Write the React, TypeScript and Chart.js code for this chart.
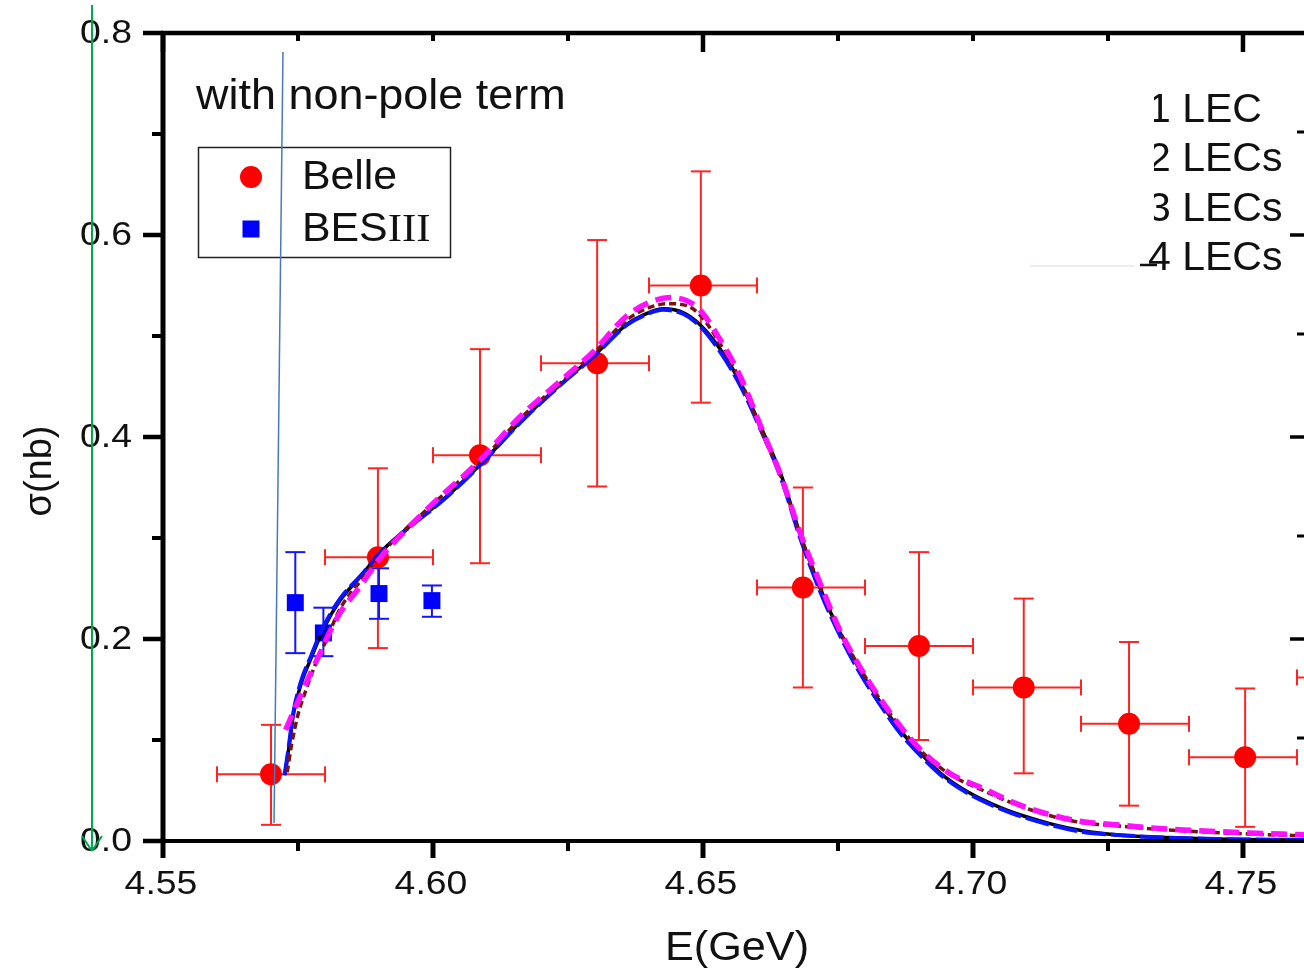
import React, { useEffect, useRef } from "react";
import { Chart, registerables } from "chart.js";

Chart.register(...registerables);

// ---------- axis / text content ----------
const xTickLabels = ["4.55", "4.60", "4.65", "4.70", "4.75"];
const xMinorTickValues = [4.575, 4.625, 4.675, 4.725];
const xTopMajorValues = [4.55, 4.65, 4.75];
const xTopMinorValues = [4.575, 4.6, 4.625, 4.675, 4.7, 4.725];
const yTickLabels = ["0.0", "0.2", "0.4", "0.6", "0.8"];
const yMinorTickValues = [0.1, 0.3, 0.5, 0.7];
const neighbourMajorTicks = [0.2, 0.4, 0.6];
const neighbourMinorTicks = [0.1, 0.3, 0.5, 0.7];
const xAxisTitle = "E(GeV)";
const yAxisTitle = "σ(nb)";
const panelNote = "with non-pole term";
const fitLabels = ["1 LEC", "2 LECs", "3 LECs", "4 LECs"];

// ---------- Belle data ----------
const belleE = [4.57, 4.5898, 4.6087, 4.6304, 4.6496, 4.6685, 4.69, 4.7094, 4.7289, 4.7504, 4.77];
const belleSigma = [0.066, 0.281, 0.382, 0.473, 0.55, 0.251, 0.193, 0.152, 0.116, 0.083, 0.162];
const belleSigmaLow = [0.016, 0.191, 0.275, 0.351, 0.434, 0.152, 0.1, 0.067, 0.035, 0.014, 0.08];
const belleSigmaHigh = [0.115, 0.369, 0.487, 0.595, 0.663, 0.35, 0.286, 0.24, 0.197, 0.151, 0.24];
const belleBinLow = [4.56, 4.58, 4.6, 4.62, 4.64, 4.66, 4.68, 4.7, 4.72, 4.74, 4.76];
const belleBinHigh = [4.58, 4.6, 4.62, 4.64, 4.66, 4.68, 4.7, 4.72, 4.74, 4.76, 4.78];

// ---------- BESIII data ----------
const besE = [4.5745, 4.5797, 4.59, 4.5998];
const besSigma = [0.236, 0.206, 0.245, 0.238];
const besSigmaLow = [0.186, 0.183, 0.22, 0.222];
const besSigmaHigh = [0.286, 0.231, 0.27, 0.253];

// ---------- fit curves ----------
const blueE = [4.5725, 4.5732, 4.5741, 4.5755, 4.5774, 4.5797, 4.5828, 4.5865, 4.5902, 4.5957, 4.602, 4.6087, 4.6161, 4.6235, 4.6296, 4.6359, 4.6389, 4.6426, 4.6463, 4.6494, 4.6531, 4.657, 4.6607, 4.6644, 4.668, 4.6717, 4.6754, 4.6791, 4.6828, 4.6865, 4.6902, 4.6939, 4.6988, 4.705, 4.708, 4.7143, 4.7204, 4.7267, 4.733, 4.745, 4.762];
const blueSigma = [0.065, 0.09, 0.126, 0.157, 0.183, 0.212, 0.24, 0.262, 0.285, 0.311, 0.338, 0.372, 0.414, 0.451, 0.479, 0.511, 0.52, 0.526, 0.522, 0.51, 0.485, 0.45, 0.407, 0.36, 0.3, 0.247, 0.203, 0.166, 0.135, 0.107, 0.085, 0.066, 0.048, 0.032, 0.026, 0.016, 0.009, 0.006, 0.004, 0.002, 0.001];
const blackE = [4.5726, 4.5733, 4.5742, 4.5756, 4.5775, 4.5798, 4.5829, 4.5866, 4.5903, 4.5958, 4.6021, 4.6088, 4.6162, 4.6236, 4.6297, 4.636, 4.639, 4.6427, 4.6464, 4.6495, 4.6532, 4.6571, 4.6608, 4.6645, 4.6681, 4.6718, 4.6755, 4.6792, 4.6829, 4.6866, 4.6903, 4.694, 4.6989, 4.7051, 4.7081, 4.7144, 4.7205, 4.7268, 4.7331, 4.7451, 4.762];
const blackSigma = [0.066, 0.092, 0.127, 0.156, 0.182, 0.211, 0.239, 0.262, 0.286, 0.312, 0.339, 0.373, 0.415, 0.452, 0.48, 0.512, 0.521, 0.527, 0.523, 0.511, 0.487, 0.452, 0.409, 0.362, 0.302, 0.249, 0.205, 0.168, 0.137, 0.109, 0.087, 0.067, 0.049, 0.033, 0.027, 0.017, 0.01, 0.006, 0.004, 0.002, 0.001];
const brownE = [4.573, 4.5738, 4.575, 4.5765, 4.578, 4.58, 4.5828, 4.5865, 4.5902, 4.5988, 4.6087, 4.6161, 4.6235, 4.6296, 4.6359, 4.64, 4.6435, 4.647, 4.6494, 4.6531, 4.6569, 4.6611, 4.6644, 4.668, 4.6717, 4.6754, 4.6791, 4.6828, 4.6865, 4.6902, 4.6957, 4.7019, 4.708, 4.7143, 4.7204, 4.7267, 4.733, 4.739, 4.751, 4.762];
const brownSigma = [0.068, 0.095, 0.125, 0.15, 0.172, 0.196, 0.23, 0.257, 0.283, 0.328, 0.375, 0.418, 0.453, 0.482, 0.516, 0.528, 0.532, 0.53, 0.521, 0.493, 0.456, 0.403, 0.361, 0.303, 0.252, 0.207, 0.171, 0.14, 0.113, 0.09, 0.066, 0.05, 0.036, 0.025, 0.018, 0.015, 0.012, 0.01, 0.007, 0.005];
const magentaE = [4.5727, 4.5745, 4.576, 4.5775, 4.5791, 4.5808, 4.5828, 4.5865, 4.5902, 4.5988, 4.6087, 4.6161, 4.6235, 4.6296, 4.6359, 4.64, 4.6439, 4.647, 4.6494, 4.6531, 4.6569, 4.6611, 4.6644, 4.668, 4.6717, 4.6754, 4.6791, 4.6828, 4.6865, 4.6902, 4.6957, 4.7019, 4.708, 4.7143, 4.7204, 4.7267, 4.733, 4.739, 4.751, 4.762];
const magentaSigma = [0.11, 0.132, 0.15, 0.168, 0.186, 0.206, 0.226, 0.252, 0.28, 0.328, 0.377, 0.42, 0.455, 0.484, 0.52, 0.533, 0.538, 0.535, 0.526, 0.497, 0.46, 0.405, 0.362, 0.305, 0.255, 0.208, 0.172, 0.141, 0.114, 0.091, 0.067, 0.052, 0.037, 0.026, 0.019, 0.016, 0.013, 0.011, 0.008, 0.006];

// ---------- annotation strokes (data coordinates) ----------
const greenArrowE = [4.53685, 4.53685];
const greenArrowSigma = [0.8277, -0.0099];
const blueMarkE = [4.57222, 4.57056];
const blueMarkSigma = [0.7812, 0.0178];

const SANS = '"Liberation Sans", Arial, Helvetica, sans-serif';
const SERIF = '"Liberation Serif", "Times New Roman", serif';

function pts(xs: number[], ys: number[]) {
  return xs.map((x, i) => ({ x, y: ys[i] }));
}

function stretchedText(
  ctx: CanvasRenderingContext2D,
  text: string,
  x: number,
  y: number,
  font: string,
  align: CanvasTextAlign,
  sx = 1,
  color = "#111"
) {
  ctx.save();
  ctx.font = font;
  ctx.fillStyle = color;
  ctx.textBaseline = "middle";
  ctx.textAlign = align;
  ctx.translate(x, y);
  ctx.scale(sx, 1);
  ctx.fillText(text, 0, 0);
  ctx.restore();
}

function line(ctx: CanvasRenderingContext2D, x1: number, y1: number, x2: number, y2: number) {
  ctx.beginPath();
  ctx.moveTo(x1, y1);
  ctx.lineTo(x2, y2);
  ctx.stroke();
}

const overlayPlugin = {
  id: "overlay",
  beforeDatasetsDraw(chart: any) {
    const { ctx, chartArea } = chart;
    const xs = chart.scales.x;
    const ys = chart.scales.y;
    ctx.save();
    ctx.beginPath();
    ctx.rect(chartArea.left, chartArea.top, chartArea.right - chartArea.left, chartArea.bottom - chartArea.top);
    ctx.clip();
    // Belle error bars
    ctx.strokeStyle = "#ff2424";
    ctx.lineWidth = 2;
    belleE.forEach((e, i) => {
      const px = xs.getPixelForValue(e);
      const py = ys.getPixelForValue(belleSigma[i]);
      const xl = xs.getPixelForValue(belleBinLow[i]);
      const xh = xs.getPixelForValue(belleBinHigh[i]);
      const yl = ys.getPixelForValue(belleSigmaLow[i]);
      const yh = ys.getPixelForValue(belleSigmaHigh[i]);
      line(ctx, xl, py, xh, py);
      line(ctx, xl, py - 8, xl, py + 8);
      line(ctx, xh, py - 8, xh, py + 8);
      line(ctx, px, yl, px, yh);
      line(ctx, px - 10, yl, px + 10, yl);
      line(ctx, px - 10, yh, px + 10, yh);
    });
    // BESIII error bars
    ctx.strokeStyle = "#1414ff";
    besE.forEach((e, i) => {
      const px = xs.getPixelForValue(e);
      const yl = ys.getPixelForValue(besSigmaLow[i]);
      const yh = ys.getPixelForValue(besSigmaHigh[i]);
      line(ctx, px, yl, px, yh);
      line(ctx, px - 10, yl, px + 10, yl);
      line(ctx, px - 10, yh, px + 10, yh);
    });
    ctx.restore();
  },
  afterDraw(chart: any) {
    const { ctx, chartArea } = chart;
    const xs = chart.scales.x;
    const ys = chart.scales.y;
    const L = chartArea.left;
    const R = chartArea.right;
    const T = chartArea.top;
    const B = chartArea.bottom;
    ctx.save();
    ctx.strokeStyle = "#000";
    ctx.lineCap = "butt";

    // frame
    ctx.lineWidth = 5;
    line(ctx, L, T - 2, L, B + 2);
    ctx.lineWidth = 4.5;
    line(ctx, L - 2, T, R, T);
    ctx.lineWidth = 4;
    line(ctx, L - 2, B, R, B);

    // bottom ticks
    xTickLabels.forEach((lab) => {
      const px = xs.getPixelForValue(parseFloat(lab));
      ctx.lineWidth = 5;
      line(ctx, px, B, px, B + 17);
      stretchedText(ctx, lab, px - 2, B + 44, `34px ${SANS}`, "center", 1.1);
    });
    ctx.lineWidth = 4;
    xMinorTickValues.forEach((v) => {
      const px = xs.getPixelForValue(v);
      line(ctx, px, B, px, B + 10);
    });
    // top ticks (inward)
    ctx.lineWidth = 4.5;
    xTopMajorValues.forEach((v) => {
      const px = xs.getPixelForValue(v);
      line(ctx, px, T, px, T + 19);
    });
    ctx.lineWidth = 4;
    xTopMinorValues.forEach((v) => {
      const px = xs.getPixelForValue(v);
      line(ctx, px, T, px, T + 8);
    });
    // left ticks
    yTickLabels.forEach((lab) => {
      const py = ys.getPixelForValue(parseFloat(lab));
      ctx.lineWidth = 4.5;
      line(ctx, L - 20, py, L, py);
      stretchedText(ctx, lab, L - 31, py + 1, `34px ${SANS}`, "right", 1.1);
    });
    ctx.lineWidth = 4;
    yMinorTickValues.forEach((v) => {
      const py = ys.getPixelForValue(v);
      line(ctx, L - 11, py, L, py);
    });
    // neighbouring panel's ticks at right edge
    ctx.lineWidth = 3.5;
    neighbourMajorTicks.forEach((v) => {
      const py = ys.getPixelForValue(v);
      line(ctx, R - 14, py, R, py);
    });
    ctx.lineWidth = 3;
    neighbourMinorTicks.forEach((v) => {
      const py = ys.getPixelForValue(v);
      line(ctx, R - 7, py - 2, R, py - 2);
    });

    // axis titles
    stretchedText(ctx, xAxisTitle, 737, 949, `40px ${SANS}`, "center", 1.08);
    ctx.save();
    ctx.translate(41, 471);
    ctx.rotate(-Math.PI / 2);
    stretchedText(ctx, yAxisTitle, 0, 0, `38px ${SANS}`, "center", 1.0);
    ctx.restore();

    // panel note
    stretchedText(ctx, panelNote, 196, 97, `42px ${SANS}`, "left", 1.07);

    // data legend
    ctx.lineWidth = 1.5;
    ctx.strokeStyle = "#222";
    ctx.strokeRect(198.5, 147.5, 252, 110);
    ctx.fillStyle = "#ff0000";
    ctx.beginPath();
    ctx.arc(251, 177, 11, 0, Math.PI * 2);
    ctx.fill();
    ctx.fillStyle = "#0000ff";
    ctx.fillRect(242.5, 220.5, 17, 17);
    stretchedText(ctx, "Belle", 302, 178, `40px ${SANS}`, "left", 1.07);
    ctx.font = `40px ${SANS}`;
    const besW = ctx.measureText("BES").width * 1.07;
    stretchedText(ctx, "BES", 302, 230, `40px ${SANS}`, "left", 1.07);
    stretchedText(ctx, "III", 302 + besW, 230, `40px ${SERIF}`, "left", 1.07);

    // fit legend (partially covered)
    const rowY = [111, 160, 210, 259];
    fitLabels.forEach((lab, i) => {
      ctx.save();
      if (i < 3) {
        ctx.beginPath();
        ctx.rect(1154, rowY[i] - 30, 200, 60);
        ctx.clip();
      }
      stretchedText(ctx, lab, 1148, rowY[i], `41px ${SANS}`, "left", 1.0);
      ctx.restore();
    });
    ctx.strokeStyle = "#f2eaea";
    ctx.lineWidth = 2;
    line(ctx, 1030, 266, 1135, 266);
    ctx.strokeStyle = "#111";
    ctx.lineWidth = 2.5;
    line(ctx, 1140, 265, 1157, 265);

    // annotation strokes
    ctx.strokeStyle = "#00a550";
    ctx.lineWidth = 2;
    const gx1 = xs.getPixelForValue(greenArrowE[0]);
    const gy1 = ys.getPixelForValue(greenArrowSigma[0]);
    const gx2 = xs.getPixelForValue(greenArrowE[1]);
    const gy2 = ys.getPixelForValue(greenArrowSigma[1]);
    line(ctx, gx1, gy1, gx2, gy2);
    line(ctx, gx2 - 10, gy2 - 15, gx2, gy2);
    line(ctx, gx2 + 10, gy2 - 15, gx2, gy2);
    ctx.strokeStyle = "#4a78c0";
    ctx.lineWidth = 1.5;
    line(
      ctx,
      xs.getPixelForValue(blueMarkE[0]),
      ys.getPixelForValue(blueMarkSigma[0]),
      xs.getPixelForValue(blueMarkE[1]),
      ys.getPixelForValue(blueMarkSigma[1])
    );
    ctx.restore();
  },
};

export default function App() {
  const canvasRef = useRef<HTMLCanvasElement | null>(null);

  useEffect(() => {
    if (!canvasRef.current) return;
    const chart = new Chart(canvasRef.current, {
      type: "scatter",
      data: {
        datasets: [
          {
            label: "Belle",
            data: pts(belleE, belleSigma),
            pointStyle: "circle",
            pointRadius: 11,
            backgroundColor: "#ff0000",
            borderColor: "#ff0000",
            borderWidth: 0,
            order: 10,
          },
          {
            label: "BESIII",
            data: pts(besE, besSigma),
            pointStyle: "rect",
            pointRadius: 12,
            backgroundColor: "#0000ff",
            borderColor: "#0000ff",
            borderWidth: 0,
            order: 9,
          },
          {
            label: "black",
            data: pts(blackE, blackSigma),
            showLine: true,
            pointRadius: 0,
            borderColor: "#000000",
            borderWidth: 3.5,
            cubicInterpolationMode: "monotone",
            order: 6,
          },
          {
            label: "blue",
            data: pts(blueE, blueSigma),
            showLine: true,
            pointRadius: 0,
            borderColor: "#0a14ff",
            borderWidth: 4,
            borderDash: [24, 5],
            cubicInterpolationMode: "monotone",
            order: 5,
          },
          {
            label: "brown",
            data: pts(brownE, brownSigma),
            showLine: true,
            pointRadius: 0,
            borderColor: "#7a1212",
            borderWidth: 3.5,
            borderDash: [7, 4],
            cubicInterpolationMode: "monotone",
            order: 4,
          },
          {
            label: "magenta",
            data: pts(magentaE, magentaSigma),
            showLine: true,
            pointRadius: 0,
            borderColor: "#ff10ff",
            borderWidth: 5.5,
            borderDash: [16, 8],
            cubicInterpolationMode: "monotone",
            order: 3,
          },
        ],
      },
      options: {
        responsive: false,
        animation: false,
        events: [],
        layout: { autoPadding: false, padding: { top: 33, right: 0, bottom: 0, left: 0 } },
        plugins: { legend: { display: false }, tooltip: { enabled: false } },
        scales: {
          x: {
            type: "linear",
            min: 4.55,
            max: 4.7613,
            grid: { display: false, drawTicks: false },
            border: { display: false },
            ticks: { display: false },
            afterFit: (s: any) => {
              s.height = 132;
              s.paddingLeft = 0;
              s.paddingRight = 0;
            },
          },
          y: {
            type: "linear",
            min: 0,
            max: 0.8,
            grid: { display: false, drawTicks: false },
            border: { display: false },
            ticks: { display: false },
            afterFit: (s: any) => {
              s.width = 163;
              s.paddingTop = 0;
              s.paddingBottom = 0;
            },
          },
        },
      },
      plugins: [overlayPlugin],
    } as any);
    return () => chart.destroy();
  }, []);

  return (
    <div style={{ position: "absolute", left: 0, top: 0, width: 1304, height: 973, background: "#fff" }}>
      <canvas ref={canvasRef} width={1304} height={973} style={{ display: "block" }} />
    </div>
  );
}
